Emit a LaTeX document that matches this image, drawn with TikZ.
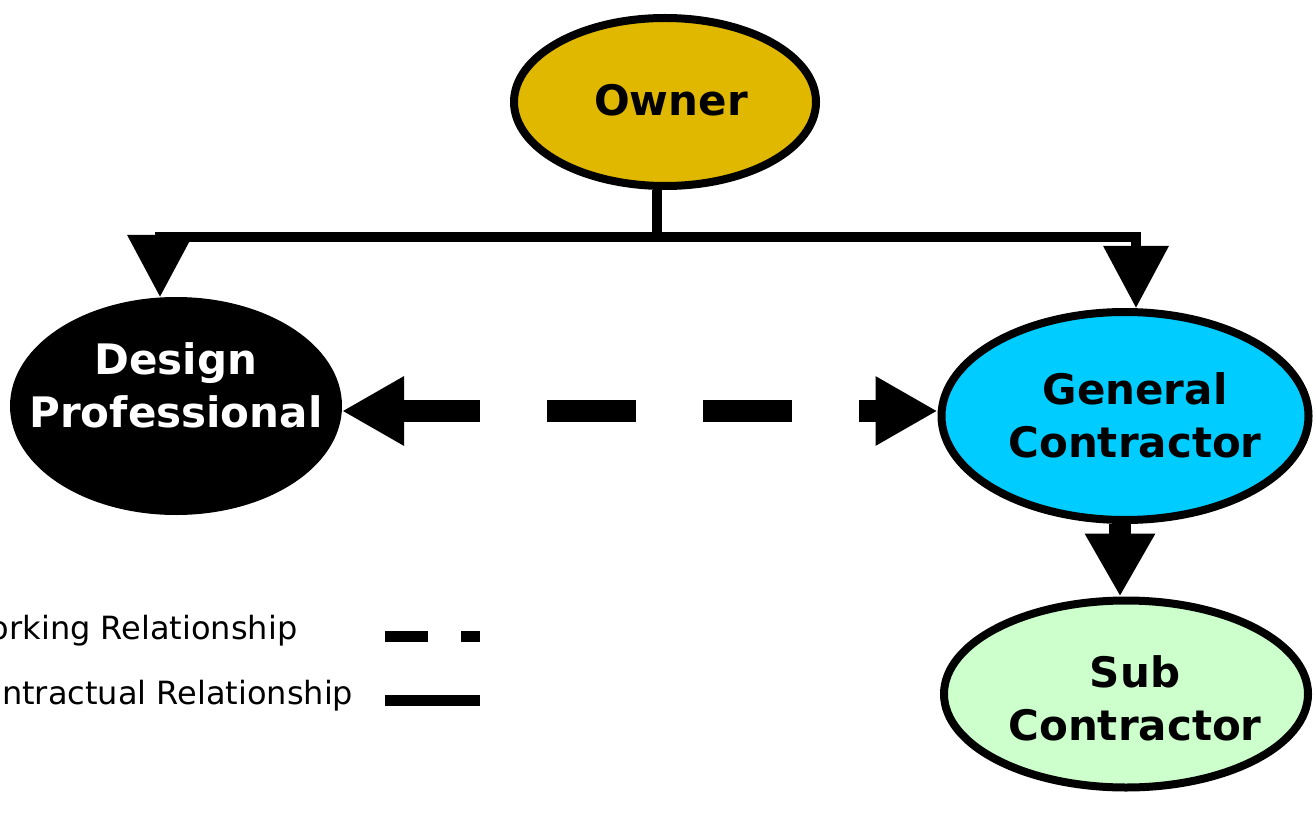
\documentclass[tikz,border=0pt]{standalone}
\usepackage{fontspec}
\setmainfont{DejaVu Sans}
\usetikzlibrary{arrows.meta,shapes.geometric}

\definecolor{ownergold}{RGB}{224,184,0}
\definecolor{gccyan}{RGB}{0,204,255}
\definecolor{subgreen}{RGB}{204,255,204}

\tikzset{
  party/.style={ellipse, draw=black, line width=8pt, inner sep=0pt},
  partytext/.style={font=\fontsize{42}{53}\selectfont\bfseries, align=center, inner sep=0pt},
  contract/.style={line width=10pt, -{Triangle[length=62pt,width=63pt]}},
  subcontract/.style={line width=22pt, -{Triangle[length=63pt,width=66pt]}},
  working/.style={line width=22pt, dash pattern=on 89pt off 67pt, dash phase=9pt,
    {Triangle[length=62pt,width=65pt]}-{Triangle[length=62pt,width=65pt]}},
  legendtext/.style={font=\fontsize{32}{36}\selectfont, anchor=base west, inner sep=0pt}
}

\begin{document}
\begin{tikzpicture}[x=1pt,y=-1pt]
\useasboundingbox (0,0) rectangle (1316,818);

% ---- the four parties
\node[party, fill=ownergold, minimum width=302pt, minimum height=168pt] (owner) at (665,102) {};
\node[party, fill=black, minimum width=324pt, minimum height=210pt] (dp) at (176,406) {};
\node[party, fill=gccyan, minimum width=367pt, minimum height=208pt] (gc) at (1125,416) {};
\node[party, fill=subgreen, minimum width=364pt, minimum height=187pt] (sc) at (1126,694) {};

\node[partytext] (ownerlabel) at (671,100) {Owner};
\node[partytext, text=white] (dplabel) at (176,385) {Design\\Professional};
\node[partytext] (gclabel) at (1135,415) {General\\Contractor};
\node[partytext] (sclabel) at (1135,698) {Sub\\Contractor};

% ---- contracts from the owner (one stem, split left and right)
\coordinate (stem) at ([xshift=-8pt]owner.south);
\coordinate (split) at (stem |- 0,237);
\draw[contract] (stem) -- (split) -| ([xshift=-16pt]dp.north);
\draw[contract] (split) -| ([xshift=11pt]gc.north);
\draw[subcontract] ([xshift=-5pt]gc.south) -- ([xshift=-6pt]sc.north);

% ---- working relationship
\draw[working] ([yshift=-5pt]dp.east) -- ([yshift=5pt]gc.west);

% ---- legend
\node[legendtext] (worklabel) at (-40,639) {Working Relationship};
\node[legendtext] (contlabel) at (-40,704) {Contractual Relationship};
\draw[line width=11pt, dash pattern=on 43pt off 33pt] (385,636) -- (480,636);
\draw[line width=11pt] (385,700) -- (480,700);

\end{tikzpicture}
\end{document}
